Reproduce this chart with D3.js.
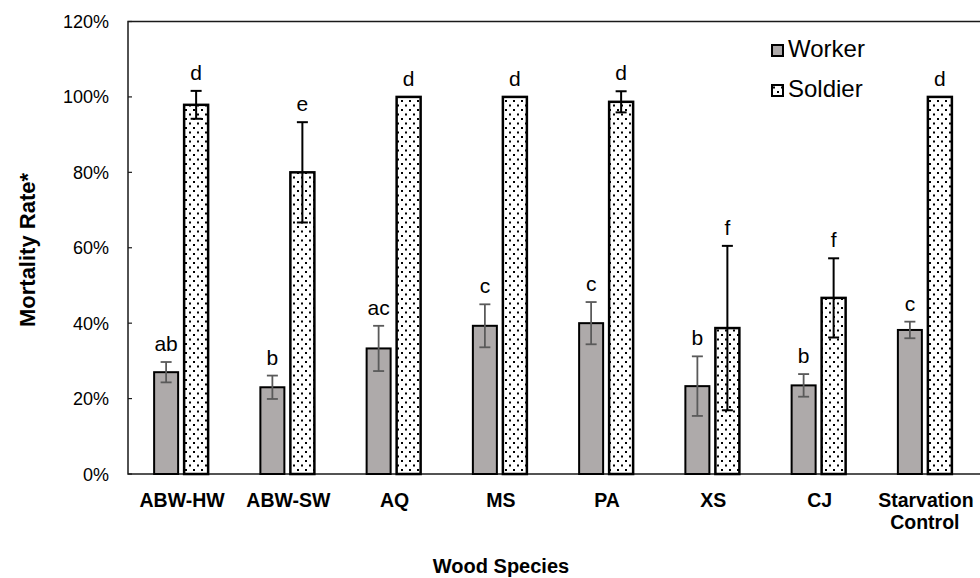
<!DOCTYPE html>
<html><head><meta charset="utf-8">
<script src="https://cdn.jsdelivr.net/npm/d3@7"></script>
<style>body{margin:0;background:#fff}svg{display:block;font-family:Arial,"Liberation Sans",sans-serif}</style>
</head><body><svg id="c" width="980" height="578"></svg>
<script>
const categories = ["ABW-HW","ABW-SW","AQ","MS","PA","XS","CJ","Starvation Control"];
const workerValues = [27.0, 23.0, 33.3, 39.3, 40.0, 23.3, 23.5, 38.2];
const workerErrors = [2.7, 3.1, 6.0, 5.7, 5.6, 7.9, 3.0, 2.2];
const workerLetters = ["ab","b","ac","c","c","b","b","c"];
const soldierValues = [97.9, 80.0, 100, 100, 98.7, 38.7, 46.7, 100];
const soldierErrors = [3.7, 13.3, 0, 0, 2.8, 21.8, 10.5, 0];
const soldierLetters = ["d","e","d","d","d","f","f","d"];
const yTicks = [0, 20, 40, 60, 80, 100, 120];
const seriesNames = ["Worker","Soldier"];

const svg = d3.select("#c");
const L = 128, R = 978, T = 21.5, B = 474;
const x = d3.scaleBand().domain(categories).range([L, R]);
const y = d3.scaleLinear().domain([0, 120]).range([B, T]);

const defs = svg.append("defs");
const pat = defs.append("pattern").attr("id","dots").attr("patternUnits","userSpaceOnUse")
  .attr("width",8).attr("height",9);
pat.append("rect").attr("width",8).attr("height",9).attr("fill","#fff");
pat.append("rect").attr("x",1).attr("y",1).attr("width",2).attr("height",2).attr("fill","#000");
pat.append("rect").attr("x",5).attr("y",5.5).attr("width",2).attr("height",2).attr("fill","#000");

// frame
svg.append("rect").attr("x",L).attr("y",T).attr("width",R-L+20).attr("height",B-T)
  .attr("fill","none").attr("stroke","#1a1a1a").attr("stroke-width",1.5);

// y axis ticks & labels
svg.append("g").selectAll("text").data(yTicks).join("text")
  .attr("x",109).attr("y",d=>y(d)+6.5).attr("text-anchor","end")
  .attr("font-size",18).attr("fill","#000").text(d=>d+"%");
svg.append("g").selectAll("line").data(yTicks).join("line")
  .attr("x1",L).attr("x2",L+4).attr("y1",d=>y(d)).attr("y2",d=>y(d))
  .attr("stroke","#1a1a1a").attr("stroke-width",1.2);

const bw = 24;
const wx = c => x(c) + x.bandwidth()/2 - 27;
const sx = c => x(c) + x.bandwidth()/2 + 3;

// worker bars
svg.append("g").selectAll("rect").data(categories).join("rect")
  .attr("x",(c)=>wx(c)).attr("y",(c,i)=>y(workerValues[i])).attr("width",bw)
  .attr("height",(c,i)=>B-y(workerValues[i]))
  .attr("fill","#aeaaaa").attr("stroke","#000").attr("stroke-width",2);
// soldier bars
svg.append("g").selectAll("rect").data(categories).join("rect")
  .attr("x",(c)=>sx(c)).attr("y",(c,i)=>y(soldierValues[i])).attr("width",bw)
  .attr("height",(c,i)=>B-y(soldierValues[i]))
  .attr("fill","url(#dots)").attr("stroke","#000").attr("stroke-width",2.5);

// error bars
function errBars(xf, vals, errs, color, w){
  const g = svg.append("g").attr("stroke",color).attr("stroke-width",w);
  categories.forEach((c,i)=>{
    if(!errs[i]) return;
    const cx = xf(c) + bw/2, y1 = y(vals[i]+errs[i]), y2 = y(vals[i]-errs[i]);
    g.append("line").attr("x1",cx).attr("x2",cx).attr("y1",y1).attr("y2",y2);
    g.append("line").attr("x1",cx-5.5).attr("x2",cx+5.5).attr("y1",y1).attr("y2",y1);
    g.append("line").attr("x1",cx-5.5).attr("x2",cx+5.5).attr("y1",y2).attr("y2",y2);
  });
}
errBars(wx, workerValues, workerErrors, "#5a5a5a", 1.8);
errBars(sx, soldierValues, soldierErrors, "#000", 2);

// letters
function letters(xf, vals, errs, labs){
  svg.append("g").selectAll("text").data(categories).join("text")
    .attr("x",c=>xf(c)+bw/2).attr("y",(c,i)=>y(vals[i]+errs[i])-11)
    .attr("text-anchor","middle").attr("font-size",21).attr("fill","#000")
    .text((c,i)=>labs[i]);
}
letters(wx, workerValues, workerErrors, workerLetters);
letters(sx, soldierValues, soldierErrors, soldierLetters);

// x category labels
const xl = svg.append("g");
categories.forEach(c=>{
  const words = c === "Starvation Control" ? ["Starvation","Control"] : [c];
  const t = xl.append("text").attr("x",x(c)+x.bandwidth()/2).attr("y",507)
    .attr("text-anchor","middle").attr("font-size",19.5).attr("font-weight","bold").attr("fill","#000");
  words.forEach((w,k)=>t.append("tspan").attr("x",x(c)+x.bandwidth()/2+(k?0:1)).attr("dy",k?22:0).text(w));
});

// axis titles
svg.append("text").attr("x",501).attr("y",573).attr("text-anchor","middle")
  .attr("font-size",20).attr("font-weight","bold").text("Wood Species");
svg.append("text").attr("transform","translate(35,250) rotate(-90)").attr("text-anchor","middle")
  .attr("font-size",22).attr("font-weight","bold").text("Mortality Rate*");

// legend
const lg = svg.append("g");
seriesNames.forEach((s,i)=>{
  const yy = 45 + i*40;
  lg.append("rect").attr("x",772).attr("y",yy).attr("width",11).attr("height",11)
    .attr("fill", i ? "url(#dots)" : "#aeaaaa").attr("stroke","#000").attr("stroke-width",2);
  lg.append("text").attr("x",788).attr("y",yy+12).attr("font-size",24).attr("fill","#000").text(s);
});
</script></body></html>
